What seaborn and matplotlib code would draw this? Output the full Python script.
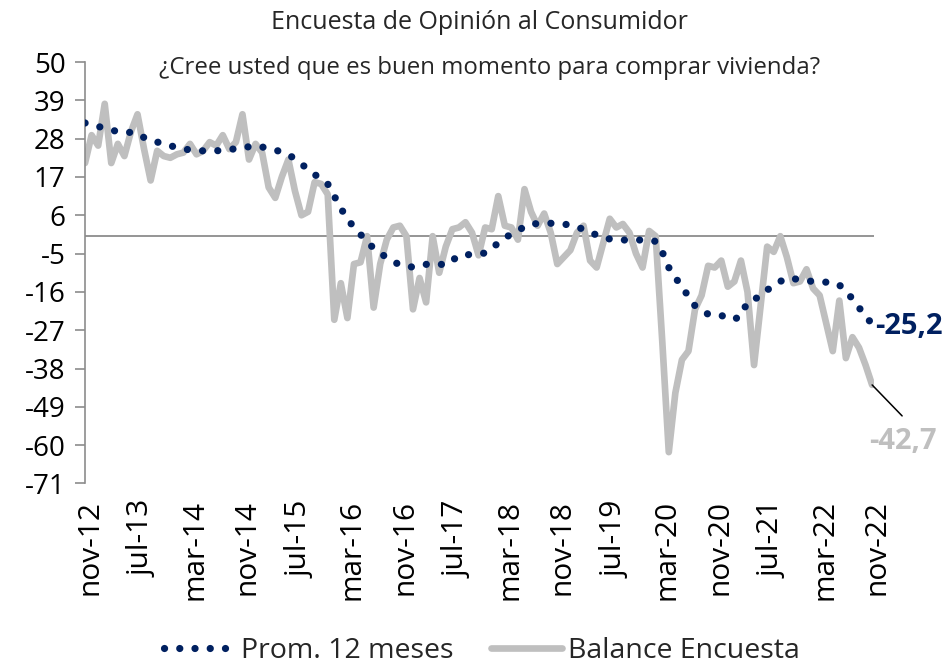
import numpy as np
import pandas as pd
import matplotlib
matplotlib.use("Agg")
import matplotlib.pyplot as plt
import matplotlib.transforms as mtransforms
import seaborn as sns

# Balance mensual de la encuesta (nov-12 a nov-22)
balance = [21, 29, 26, 38, 21, 26.5, 23, 30, 35, 25,
           16, 24.5, 23, 22.5, 23.5, 24, 26.5, 23.5, 24.5, 27,
           26, 29, 25, 27, 35, 22, 26.5, 24, 14, 11,
           17, 22, 13, 6, 7, 15.5, 15, 12, -24, -13.5,
           -23.5, -8, -7.5, 0, -20.5, -8, -1, 2.5, 3, 0,
           -21, -12, -19, 0, -10.5, -3, 2, 2.5, 4, 1,
           -5.5, 2.5, 2, 11.5, 3, 2.5, -1, 13.5, 7, 3,
           6.5, 1, -8, -6, -4, 1, 3, -7, -9, -2,
           5, 2.5, 3.5, 1, -5, -9, 1.5, 0, -30, -62,
           -45, -35.5, -33, -21, -17, -8.5, -9, -7, -14.5, -13,
           -7, -16, -37, -20, -3, -4.5, 0, -6, -13.5, -13,
           -9.5, -15, -17, -25, -33, -18.5, -35, -29, -32, -37,
           -42.7]

# Promedio 12 meses
prom_12m = [32.5, 32, 31.5, 31, 30.5, 30, 29.8, 29.8, 29.5, 28.3,
            27.4, 27, 26.7, 26, 25.4, 25, 24.8, 24.6, 24.5, 24.4,
            24.5, 24.7, 24.9, 25.1, 25.3, 25.7, 26, 25.6, 25.2, 24.7,
            24.2, 23.4, 22.2, 20.7, 19.2, 17.7, 16.5, 15, 11.5, 8,
            5, 2.5, 0.5, -1.5, -3.5, -4.8, -6.2, -7.2, -8.3, -8.6,
            -8.9, -8.6, -8.1, -7.8, -8, -8.3, -7, -5.5, -5.4, -5.2,
            -5.2, -4.8, -3.8, -1.8, -0.5, 0.6, 1.5, 2.8, 3.5, 3.6,
            3.7, 3.7, 3.7, 3.5, 3.1, 2.6, 2, 1.2, 0.3, -0.5,
            -0.8, -1, -1.1, -1.1, -1.1, -1.1, -1.1, -1.5, -4.5, -9,
            -11.8, -14.7, -17.2, -20, -21.3, -22.4, -22.7, -22.7, -23.8, -23.8,
            -23, -18.8, -18, -17.4, -15.5, -14, -13, -12, -12.2, -12.5,
            -12.8, -13, -13.2, -13.2, -13.2, -14, -15.8, -18, -20.5, -23,
            -25.2]

etiquetas_x = ["nov-12", "jul-13", "mar-14", "nov-14", "jul-15", "mar-16",
               "nov-16", "jul-17", "mar-18", "nov-18", "jul-19", "mar-20",
               "nov-20", "jul-21", "mar-22", "nov-22"]
ticks_y = [50, 39, 28, 17, 6, -5, -16, -27, -38, -49, -60, -71]

AZUL = "#002060"
GRIS = "#BFBFBF"
EJE = "#8C8C8C"

df = pd.DataFrame({"mes": np.arange(len(balance)), "balance": balance, "prom": prom_12m})

sns.set_style("white")
plt.rcParams["font.family"] = ["Open Sans", "DejaVu Sans"]
plt.rcParams["axes.unicode_minus"] = False

fig = plt.figure(figsize=(9.47, 6.69), dpi=100)
ax = fig.add_axes([0.0898, 0.2773, 0.8332, 0.630])

# linea del cero
ax.axhline(0, color=EJE, lw=1.3, zorder=1)

sns.lineplot(data=df, x="mes", y="balance", ax=ax, color=GRIS, lw=4.8,
             label="Balance Encuesta", zorder=2)
sns.lineplot(data=df, x="mes", y="prom", ax=ax, color=AZUL, lw=5.2,
             label="Prom. 12 meses", zorder=3)
punteada = ax.lines[-1]
punteada.set_linestyle((0, (0.01, 2.1)))
punteada.set_dash_capstyle("round")

ax.set_xlim(0, 120.3)
ax.set_ylim(-71, 50)
ax.set_yticks(ticks_y)
ax.set_xticks(np.arange(0, len(balance), 8))
ax.set_xticklabels(etiquetas_x, rotation=90)
ax.set_xlabel("")
ax.set_ylabel("")

sns.despine(ax=ax, bottom=True)
ax.spines["left"].set_color(EJE)
ax.spines["left"].set_linewidth(1.2)
ax.tick_params(axis="y", left=True, direction="out", length=7, width=1.2,
               color=EJE, labelsize=20, pad=7, labelcolor="black")
ax.tick_params(axis="x", bottom=False, length=0, pad=12, labelsize=21.5, labelcolor="black")

desplaza = mtransforms.ScaledTranslation(5 / 100, 0, fig.dpi_scale_trans)
for lab in ax.get_xticklabels():
    lab.set_transform(lab.get_transform() + desplaza)

# titulo
fig.text(0.506, 0.967, "Encuesta de Opinión al Consumidor", ha="center", va="center",
         fontsize=18, color="#262626")
fig.text(0.517, 0.899, "¿Cree usted que es buen momento para comprar vivienda?",
         ha="center", va="center", fontsize=17.3, color="#262626")

# etiquetas de los ultimos valores
ult = len(balance) - 1
ax.annotate(f"{prom_12m[-1]:.1f}".replace(".", ","), xy=(ult, prom_12m[-1]),
            xytext=(3, -3), textcoords="offset pixels", ha="left", va="center",
            fontsize=21, fontweight="bold", color=AZUL, annotation_clip=False)
ax.annotate("", xy=(ult, balance[-1]), xytext=(30, -31), textcoords="offset pixels",
            arrowprops=dict(arrowstyle="-", color="black", lw=1.1, shrinkA=0, shrinkB=0),
            annotation_clip=False)
ax.annotate(f"{balance[-1]:.1f}".replace(".", ","), xy=(ult, balance[-1]),
            xytext=(31, -57), textcoords="offset pixels", ha="center", va="center",
            fontsize=21, fontweight="bold", color=GRIS, annotation_clip=False)

handles, labels = ax.get_legend_handles_labels()
ax.get_legend().remove()
fig.legend(handles[::-1], labels[::-1], loc="center", bbox_to_anchor=(0.509, 0.027),
           ncol=2, frameon=False, fontsize=20.5, handlelength=2.5, handletextpad=0.2,
           columnspacing=1.3, borderpad=0.2)

fig.savefig("out.png", dpi=100)
